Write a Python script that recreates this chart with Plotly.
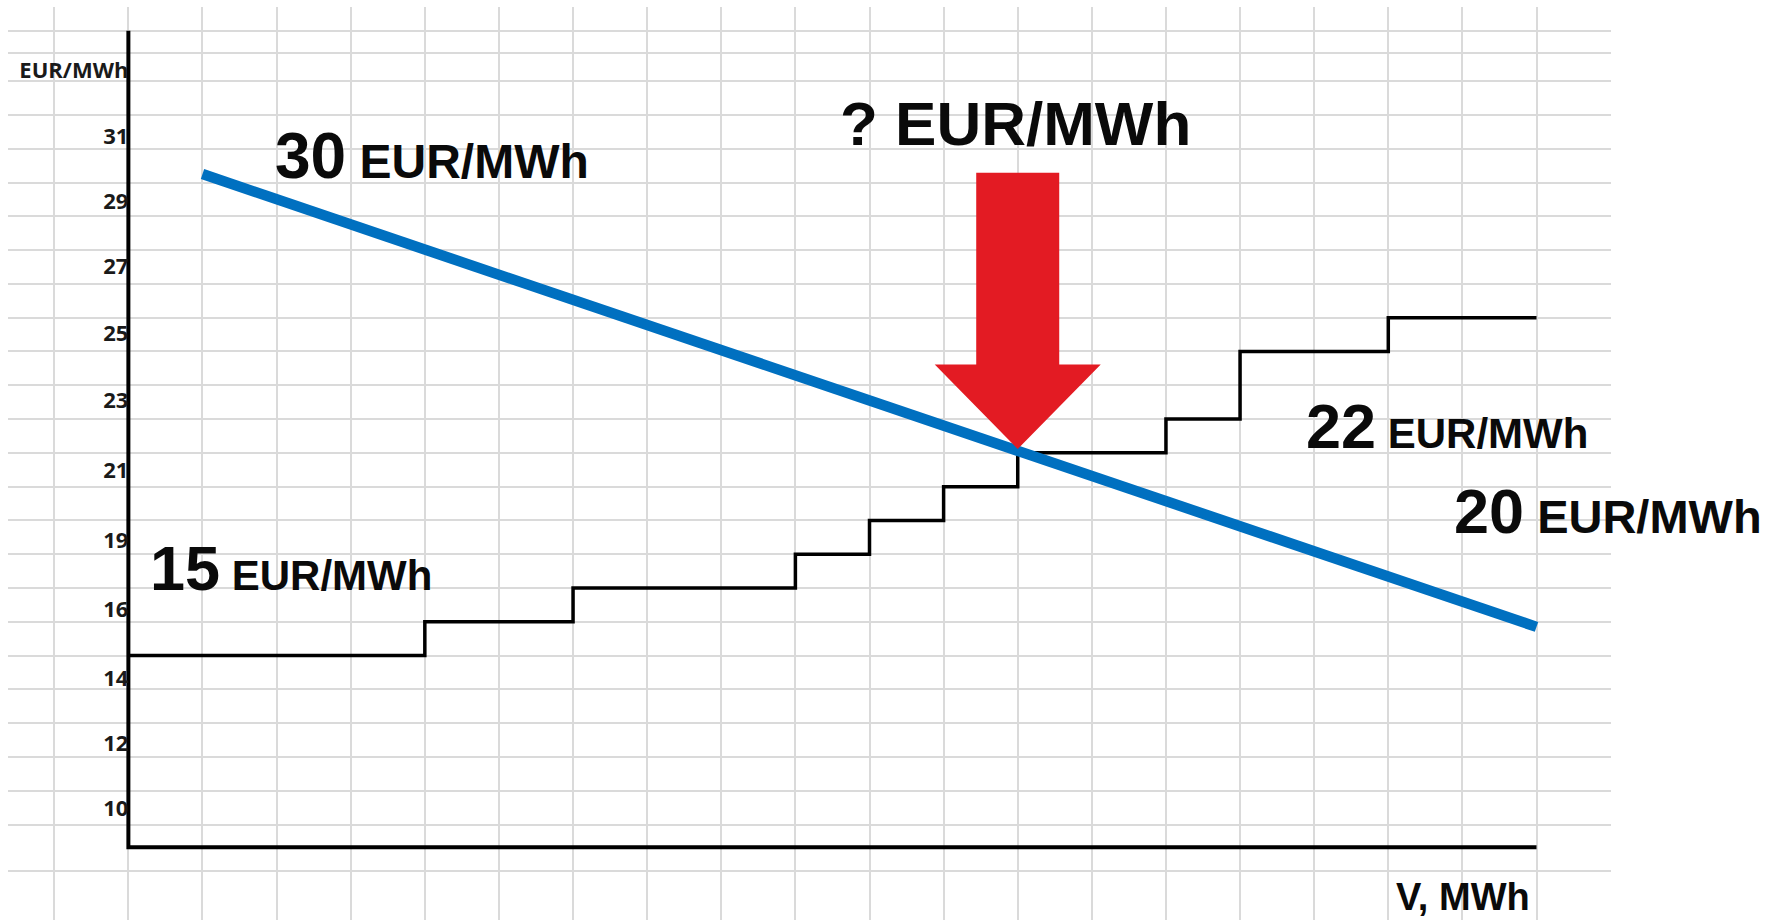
import numpy as np
import plotly.graph_objects as go

# spreadsheet style chart: x counted in grid columns (V, MWh), y in grid rows
price_labels = ["31", "29", "27", "25", "23", "21", "19", "16", "14", "12", "10"]
price_label_rows = [20.36, 18.45, 16.51, 14.54, 12.56, 10.49, 8.42, 6.37, 4.33, 2.41, 0.48]
unit_label_row = 22.31

# supply (black steps): breakpoints on V and the price row of each step
supply_v = [0, 4, 6, 9, 10, 11, 12, 14, 15, 17, 19]
supply_p = [5, 6, 7, 8, 9, 10, 11, 12, 14, 15, 15]

# demand (blue line)
demand_v = [1, 19]
demand_p = [19.25, 5.85]

# axis extents
axis_v_max = 19
axis_p_min = -0.674
axis_p_max = 23.49

# price texts
note_30 = "30"
note_15 = "15"
note_22 = "22"
note_20 = "20"

FONT = "Liberation Sans, Arial, sans-serif"
TICK_FONT = "Open Sans, Liberation Sans, sans-serif"
INK = "#0a0a0a"

# where demand meets the supply step
demand_at = np.interp(supply_v, demand_v, demand_p)
gap = demand_at - np.array(supply_p)
i_eq = int(np.argmax(gap < 0)) - 1
eq_v = supply_v[i_eq]
eq_p = float(demand_at[i_eq])

fig = go.Figure()

# axes (L shape)
fig.add_trace(go.Scatter(
    x=[0, 0, axis_v_max], y=[axis_p_max, axis_p_min, axis_p_min],
    mode="lines", line=dict(color="black", width=4), hoverinfo="skip"))

# supply steps
fig.add_trace(go.Scatter(
    x=supply_v, y=supply_p, mode="lines", line_shape="hv",
    line=dict(color="black", width=3.5), name="supply"))

# demand line
fig.add_trace(go.Scatter(
    x=demand_v, y=demand_p, mode="lines",
    line=dict(color="#0070C0", width=10.5), name="demand"))

# big red arrow pointing at the equilibrium
tip = eq_p + 0.05
shaft_w, head_w = 0.56, 1.12
head_top = tip + 2.5
shaft_top = tip + 8.18
ax = [eq_v - shaft_w, eq_v + shaft_w, eq_v + shaft_w, eq_v + head_w, eq_v,
      eq_v - head_w, eq_v - shaft_w, eq_v - shaft_w]
ay = [shaft_top, shaft_top, head_top, head_top, tip, head_top, head_top, shaft_top]
fig.add_trace(go.Scatter(
    x=ax, y=ay, mode="lines", fill="toself", fillcolor="#E31B23",
    line=dict(width=0, color="#E31B23"), hoverinfo="skip"))

# spreadsheet row lines (rows near the top and bottom are shorter)
row_lines = list(range(0, 23)) + [22.82, 23.49, 24.19, -1.38]


def price_note(num, x, y, num_size, unit_size):
    return dict(
        text=f"<b><span style='font-size:{num_size}px'>{num}</span> EUR/MWh</b>",
        x=x, y=y, xref="paper", yref="paper", xanchor="left", yanchor="bottom",
        showarrow=False, font=dict(family=FONT, size=unit_size, color=INK))


annotations = [
    price_note(note_30, 0.1531, 0.789, 64, 48),
    price_note(note_15, 0.0829, 0.3428, 63, 42),
    price_note(note_22, 0.7322, 0.4972, 63, 42),
    price_note(note_20, 0.8150, 0.4043, 63, 47),
    dict(text="<b>? EUR/MWh</b>", x=0.4705, y=0.8266, xref="paper", yref="paper",
         xanchor="left", yanchor="bottom", showarrow=False,
         font=dict(family=FONT, size=62, color=INK)),
    dict(text="<b>V, MWh</b>", x=0.8600, y=0.0, xref="paper", yref="paper",
         xanchor="right", yanchor="bottom", showarrow=False,
         font=dict(family=FONT, size=38, color=INK)),
]

fig.update_layout(
    width=1781, height=920,
    margin=dict(l=0, r=0, t=0, b=0),
    paper_bgcolor="white", plot_bgcolor="white",
    showlegend=False,
    annotations=annotations,
    xaxis=dict(
        domain=[7 / 1568, 1418 / 1568],
        range=[-1.625, 20.0],
        tick0=0, dtick=1,
        showgrid=True, gridcolor="#dadada", gridwidth=1.5,
        showticklabels=False, ticks="", zeroline=False, showline=False,
        fixedrange=True,
    ),
    yaxis=dict(
        domain=[0, 1 - 6 / 810],
        range=[-2.825, 24.20],
        anchor="free", position=128.4 / 1781,
        tickmode="array",
        tickvals=price_label_rows + [unit_label_row],
        ticktext=price_labels + ["<span style='font-size:22px'>EUR/MWh</span>"],
        tickfont=dict(family=TICK_FONT, size=22, color="#1a1a1a", weight="bold"),
        ticks="", showgrid=False, zeroline=False, showline=False,
        minor=dict(tickmode="array", tickvals=row_lines, showgrid=True,
                   gridcolor="#dadada", gridwidth=1.5, ticks=""),
        fixedrange=True,
    ),
)

# the page body has a default 8px margin; drop it so the figure fills the window
fig.write_html("out.html", config={"displayModeBar": False},
               post_script="document.body.style.margin = '0px';")
